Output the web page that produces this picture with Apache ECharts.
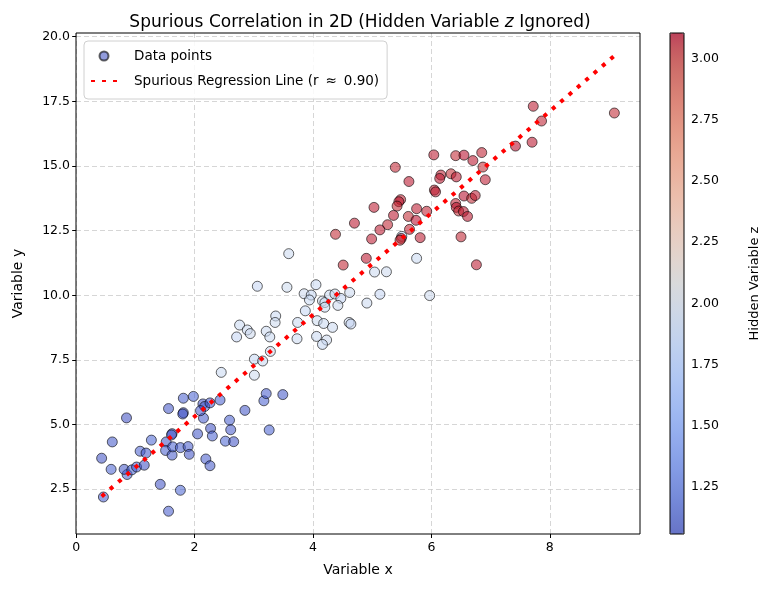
<!DOCTYPE html>
<html><head><meta charset="utf-8">
<script src="https://cdn.jsdelivr.net/npm/echarts@6/dist/echarts.min.js"></script>
<style>html,body{margin:0;padding:0;background:#fff}#c{width:773px;height:590px}</style>
</head><body><div id="c"></div>
<script>
// ---- data ----
const blueX = [0.46,0.43,0.59,0.61,0.85,0.86,0.81,0.94,1.02,1.15, 1.08,1.18,1.27,1.42,1.56,1.52,1.51,1.62,1.63,1.62, 1.61,1.76,1.89,1.91,1.76,1.56,1.81,1.81,1.80,1.98, 2.05,2.15,2.14,2.17,2.10,2.26,2.43,2.27,2.30,2.19, 2.26,2.52,2.66,2.59,2.61,2.85,3.17,3.21,3.49,3.26];
const blueY = [2.20,3.70,3.27,4.33,5.26,3.07,3.27,3.25,3.36,3.43, 3.97,3.90,4.40,2.69,1.65,4.33,4.00,3.82,4.14,4.65, 4.60,4.11,4.15,3.85,2.46,5.62,6.02,5.46,5.41,6.09, 4.64,5.25,5.80,5.70,5.54,5.84,5.95,4.85,4.56,3.67, 3.41,4.36,4.34,5.17,4.80,5.55,5.92,6.20,6.16,4.79];
const blueZ = [1.12,1.08,1.15,1.10,1.06,1.13,1.09,1.17,1.11,1.07, 1.14,1.10,1.16,1.08,1.12,1.09,1.13,1.11,1.15,1.07, 1.10,1.14,1.12,1.08,1.16,1.09,1.13,1.11,1.055,1.15, 1.10,1.12,1.08,1.14,1.11,1.09,1.13,1.07,1.15,1.12, 1.10,1.16,1.08,1.13,1.11,1.09,1.14,1.12,1.10,1.15];

const lightX = [3.59,3.06,3.56,4.05,3.85,3.97,3.94,4.16,4.20,4.28, 4.37,4.47,4.62,4.20,4.42,3.87,3.74,4.07,4.18,4.33, 4.61,4.64,3.73,4.06,4.23,4.16,3.37,3.36,2.76,2.89, 2.94,2.71,3.21,3.27,3.28,3.01,3.15,3.01,2.45,5.04, 5.24,5.13,4.91,5.75,5.97,5.50];
const lightY = [11.61,10.35,10.31,10.41,10.06,10.01,9.82,9.78,9.72,10.01, 10.05,9.88,10.11,9.54,9.61,9.40,8.95,9.02,8.91,8.76, 8.95,8.89,8.32,8.41,8.27,8.10,9.20,8.95,8.85,8.66, 8.52,8.39,8.61,8.39,7.83,7.53,7.46,6.91,7.02,10.90, 10.91,10.04,9.70,11.43,9.99,12.28];
const lightZ = [1.94,1.90,1.96,1.92,1.95,1.91,1.93,1.97,1.92,1.94, 1.96,1.89,1.94,1.92,1.95,1.91,1.93,1.96,1.92,1.94, 1.95,1.90,1.94,1.92,1.95,1.91,1.93,1.96,1.92,1.94, 1.95,1.90,1.94,1.92,1.95,1.91,1.93,1.96,1.92,1.94, 1.95,1.90,1.94,1.92,1.95,1.91];

const redX = [6.04,6.41,6.55,6.85,6.70,6.87,6.91,7.42,5.39,5.62, 6.16,6.14,6.33,6.42,6.05,6.07,6.55,6.68,6.74,6.41, 6.42,6.46,6.54,6.61,6.50,6.76,5.48,5.45,5.42,5.03, 5.36,5.61,5.75,5.92,5.74,5.26,5.13,4.70,4.38,4.99, 5.63,5.49,5.47,5.81,4.90,4.51,7.72,7.86,7.70,9.09];
const redY = [15.43,15.40,15.42,15.52,15.21,14.96,14.47,15.77,14.95,14.40, 14.65,14.52,14.70,14.58,14.07,14.00,13.84,13.75,13.86,13.55, 13.40,13.26,13.24,13.05,12.26,11.18,13.70,13.62,13.45,13.40, 13.09,13.05,13.35,13.25,12.90,12.73,12.53,12.79,12.36,12.18, 12.55,12.20,12.13,12.23,11.43,11.17,17.31,16.74,15.92,17.05];
const redZ = [3.08,3.05,3.10,3.07,3.09,3.04,3.08,3.107,3.06,3.09, 3.07,3.08,3.04,3.09,3.06,3.08,3.10,3.05,3.08,3.07, 3.09,3.05,3.08,3.09,3.06,3.08,3.07,3.09,3.05,3.08, 3.09,3.05,3.08,3.07,3.10,3.06,3.08,3.09,3.05,3.08, 3.07,3.09,3.04,3.08,3.09,3.06,3.08,3.07,3.09,3.05];

const xTicks = [0, 2, 4, 6, 8];
const yTicks = [2.5, 5.0, 7.5, 10.0, 12.5, 15.0, 17.5, 20.0];
const zTicks = [1.25, 1.50, 1.75, 2.00, 2.25, 2.50, 2.75, 3.00];

const titleText = 'Spurious Correlation in 2D (Hidden Variable ';
const legendPoints = 'Data points';
const legendLine = 'Spurious Regression Line (r \u2009\u2248\u2009 0.90)';

// coolwarm colormap stops
const coolwarm = [[59,76,192],[77,104,215],[98,130,234],[119,154,247],[141,176,254],[163,194,255],[184,208,249],[204,217,238],[221,221,221],[236,211,197],[245,196,173],[247,177,148],[244,154,123],[236,127,99],[222,96,77],[203,62,56],[192,40,47],[180,4,38]];
const cwStops = [0,0.0625,0.125,0.1875,0.25,0.3125,0.375,0.4375,0.5,0.5625,0.625,0.6875,0.75,0.8125,0.875,0.9375,0.96875,1];

// ---- build ----
const allX = blueX.concat(lightX, redX);
const allY = blueY.concat(lightY, redY);
const allZ = blueZ.concat(lightZ, redZ);
const n = allX.length;
const mx = allX.reduce((a,b)=>a+b,0)/n, my = allY.reduce((a,b)=>a+b,0)/n;
let sxy = 0, sxx = 0;
for (let i=0;i<n;i++){ sxy += (allX[i]-mx)*(allY[i]-my); sxx += (allX[i]-mx)*(allX[i]-mx); }
const slope = sxy/sxx, intercept = my - slope*mx;
const xMin = Math.min(...allX), xMax = Math.max(...allX);
const lineData = [[xMin, intercept+slope*xMin],[xMax, intercept+slope*xMax]];
const yAll = allY.concat(lineData.map(d=>d[1]));
const yMin = Math.min(...yAll), yMax = Math.max(...yAll);
const xr = xMax-xMin, yr = yMax-yMin;
const zMin = Math.min(...allZ), zMax = Math.max(...allZ);
const points = allX.map((x,i)=>[x, allY[i], allZ[i]]);

const nSamp = 41;
const cmapColors = [];
for (let k=0;k<nSamp;k++){
  const t = k/(nSamp-1);
  let j = 0; while (j < cwStops.length-2 && t > cwStops[j+1]) j++;
  const f = (t - cwStops[j])/(cwStops[j+1]-cwStops[j]);
  const c = coolwarm[j].map((v,q)=>Math.round(v + (coolwarm[j+1][q]-v)*f));
  cmapColors.push('rgba(' + c[0] + ',' + c[1] + ',' + c[2] + ',0.7)');
}

const FF = '"DejaVu Sans", "Open Sans", sans-serif';
const GL = 76, GT = 33, GW = 564, GH = 501;

const chart = echarts.init(document.getElementById('c'), null, {renderer:'canvas'});
chart.setOption({
  animation: false,
  backgroundColor: '#fff',
  textStyle: { fontFamily: FF },
  title: {
    left: GL + GW/2 - 3, top: 9, textAlign: 'center',
    text: '{a|' + titleText + '}{i|z}{a| Ignored)}',
    textStyle: { fontWeight: 'normal', rich: {
      a: { fontSize: 17, color: '#000', fontFamily: FF, fontWeight: 'normal' },
      i: { fontSize: 17, color: '#000', fontFamily: FF, fontStyle: 'italic', fontWeight: 'normal' }
    } }
  },
  legend: {
    left: 84, top: 41, orient: 'vertical', selectedMode: false,
    padding: [8, 8, 11, 6], itemGap: 11, itemWidth: 26, itemHeight: 9,
    borderColor: '#d0d0d0', borderWidth: 1, borderRadius: 4,
    backgroundColor: 'rgba(255,255,255,0.85)',
    formatter: name => '{g|}{t|' + name + '}',
    textStyle: { fontSize: 13.5, color: '#000', fontFamily: FF,
      rich: { g: { width: 12, height: 16 }, t: { fontSize: 13.5, color: '#000', fontFamily: FF, lineHeight: 16 } } },
    data: [ { name: legendPoints },
            { name: legendLine, itemStyle: { opacity: 0 } } ]
  },
  grid: [
    { left: GL, top: GT, width: GW, height: GH, show: true, borderColor: '#000', borderWidth: 1, z: 5 },
    { left: 670, top: GT, width: 14, height: GH, show: true, borderColor: '#000', borderWidth: 1, z: 6 }
  ],
  xAxis: [
    { type: 'value', gridIndex: 0, min: xMin - 0.05*xr, max: xMax + 0.05*xr,
      axisLine: { show: false },
      axisTick: { show: true, customValues: xTicks, length: 4, lineStyle: { color: '#000', width: 1 } },
      axisLabel: { customValues: xTicks, color: '#000', fontSize: 12.5, margin: 7, fontFamily: FF },
      splitLine: { show: true, lineStyle: { color: '#cccccc', width: 0.8, type: [5, 3] } },
      name: 'Variable x', nameLocation: 'middle', nameGap: 29,
      nameTextStyle: { fontSize: 14, color: '#000', fontFamily: FF } },
    { type: 'value', gridIndex: 1, min: 0, max: 1, show: false }
  ],
  yAxis: [
    { type: 'value', gridIndex: 0, min: yMin - 0.05*yr, max: yMax + 0.05*yr,
      axisLine: { show: false },
      axisTick: { show: true, customValues: yTicks, length: 4, lineStyle: { color: '#000', width: 1 } },
      axisLabel: { customValues: yTicks, color: '#000', fontSize: 12.5, margin: 6, fontFamily: FF,
        formatter: v => v.toFixed(1) },
      splitLine: { show: true, lineStyle: { color: '#cccccc', width: 0.8, type: [5, 3] } },
      name: 'Variable y', nameLocation: 'middle', nameGap: 51, nameRotate: 90,
      nameTextStyle: { fontSize: 14, color: '#000', fontFamily: FF } },
    { type: 'value', gridIndex: 1, position: 'right', min: zMin, max: zMax,
      axisLine: { show: false },
      axisTick: { show: true, customValues: zTicks, length: 4, lineStyle: { color: '#000', width: 1 } },
      axisLabel: { customValues: zTicks, color: '#000', fontSize: 12.5, margin: 7, fontFamily: FF,
        formatter: v => v.toFixed(2) },
      splitLine: { show: false },
      name: 'Hidden Variable z', nameLocation: 'middle', nameGap: 64, nameRotate: 90,
      nameTextStyle: { fontSize: 13, color: '#000', fontFamily: FF } }
  ],
  visualMap: {
    type: 'continuous', seriesIndex: 0, dimension: 2,
    min: zMin, max: zMax, calculable: false, hoverLink: false,
    left: 670, top: GT, itemWidth: 14, itemHeight: GH, padding: 0,
    text: null, showLabel: false,
    inRange: { color: cmapColors }
  },
  series: [
    { name: legendPoints, type: 'scatter', xAxisIndex: 0, yAxisIndex: 0, data: points,
      symbol: 'circle', symbolSize: 10, z: 2,
      itemStyle: { color: 'rgba(59,76,192,0.7)', borderColor: 'rgba(0,0,0,0.75)', borderWidth: 1 } },
    { name: legendLine, type: 'line', xAxisIndex: 0, yAxisIndex: 0, data: lineData,
      symbol: 'none', showSymbol: false, z: 3,
      lineStyle: { color: '#ff0000', width: 4, type: [4, 7], cap: 'butt' },
      itemStyle: { color: '#ff0000' } }
  ]
});
</script>
</body></html>
